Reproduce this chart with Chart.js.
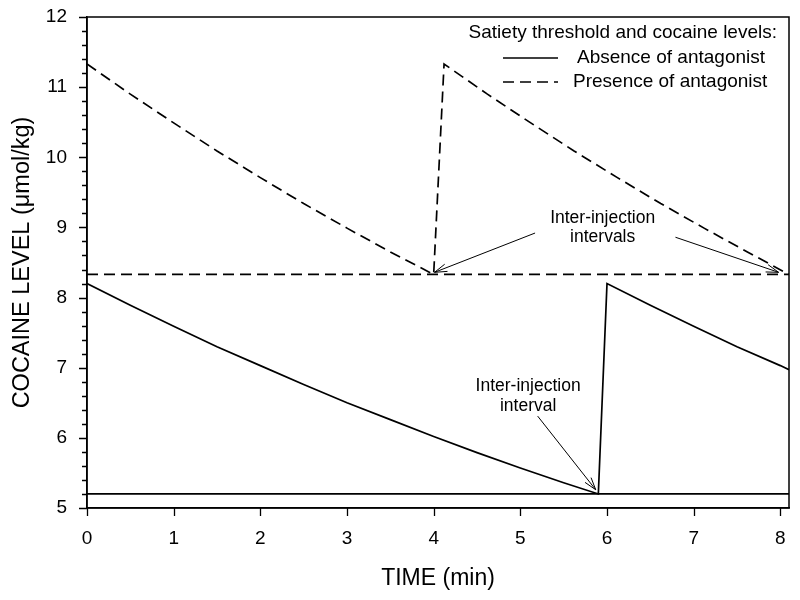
<!DOCTYPE html>
<html>
<head>
<meta charset="utf-8">
<script src="https://cdn.jsdelivr.net/npm/chart.js@4.4.1/dist/chart.umd.min.js"></script>
<style>
  html, body { margin: 0; padding: 0; background: #fff; }
  #wrap { width: 800px; height: 600px; }
</style>
</head>
<body>
<div id="wrap"><canvas id="chart" width="800" height="600"></canvas></div>
<script>
// values
const absTime  = [0, 0.5, 1, 1.5, 2, 2.5, 3, 3.5, 4, 4.5, 5, 5.5, 5.9, 6.0, 6.5, 7.0, 7.5, 8.0, 8.1];
const absLevel = [8.20, 7.89, 7.59, 7.30, 7.03, 6.76, 6.50, 6.26, 6.02, 5.79, 5.57, 5.36, 5.20, 8.20, 7.89, 7.59, 7.30, 7.03, 6.97];
const presTime  = [0, 0.5, 1, 1.5, 2, 2.5, 3, 3.5, 4.0, 4.12, 4.62, 5.12, 5.62, 6.12, 6.62, 7.12, 7.62, 8.1];
const presLevel = [11.33, 10.90, 10.49, 10.09, 9.71, 9.34, 8.99, 8.65, 8.33, 11.33, 10.90, 10.49, 10.09, 9.71, 9.34, 8.99, 8.65, 8.33];
const thresholdTime = [0, 8.1];
const absThreshold  = [5.2, 5.2];
const presThreshold = [8.33, 8.33];
const xTicks = [0, 1, 2, 3, 4, 5, 6, 7, 8];
const yTicks = [5, 6, 7, 8, 9, 10, 11, 12];

const legendTitle = 'Satiety threshold and cocaine levels:';
const legendLabels = ['Absence of antagonist', 'Presence of antagonist'];

// annotation text and arrows, in data units
const notes = [
  { lines: ['Inter-injection', 'intervals'], x: 5.95, y: [9.13, 8.86] },
  { lines: ['Inter-injection', 'interval'], x: 5.09, y: [6.73, 6.45] }
];
const arrows = [
  { from: [5.17, 8.92], to: [4.01, 8.36] },
  { from: [6.79, 8.86], to: [7.98, 8.36] },
  { from: [5.20, 6.31], to: [5.87, 5.26] }
];

const FONT = '"Liberation Sans", Arial, sans-serif';
const DASH = [11, 6];
const pts = (xs, ys) => xs.map((x, i) => ({ x: x, y: ys[i] }));

const line = (data, dash) => ({
  data: data, borderColor: '#000', borderWidth: 1.7, borderDash: dash,
  pointRadius: 0, showLine: true, fill: false, tension: 0
});

const extras = {
  id: 'extras',
  afterDraw(c) {
    const ctx = c.ctx, a = c.chartArea;
    const xs = c.scales.x, ys = c.scales.y;
    ctx.save();
    ctx.strokeStyle = '#000';
    ctx.lineWidth = 1.5;
    ctx.strokeRect(a.left, a.top, a.right - a.left, a.bottom - a.top);

    // ticks
    ctx.beginPath();
    xTicks.forEach(v => {
      const px = Math.round(xs.getPixelForValue(v)) + 0.5;
      ctx.moveTo(px, a.bottom); ctx.lineTo(px, a.bottom + 8);
    });
    for (let k = 0; k <= 35; k++) {
      const v = 5 + k * 0.2;
      const py = Math.round(ys.getPixelForValue(v)) + 0.5;
      const len = k % 5 === 0 ? 8 : 5;
      ctx.moveTo(a.left, py); ctx.lineTo(a.left - len, py);
    }
    ctx.lineWidth = 1.3;
    ctx.stroke();

    // legend
    ctx.fillStyle = '#000';
    ctx.font = '19px ' + FONT;
    ctx.textBaseline = 'middle';
    ctx.textAlign = 'right';
    ctx.fillText(legendTitle, a.right - 12, a.top + 16);
    ctx.textAlign = 'left';
    legendLabels.forEach((lab, i) => {
      const y = a.top + 41 + i * 24;
      ctx.beginPath();
      ctx.setLineDash(i === 0 ? [] : DASH);
      ctx.lineWidth = 1.7;
      ctx.moveTo(a.left + 416, y); ctx.lineTo(a.left + 471, y);
      ctx.stroke();
      ctx.setLineDash([]);
      ctx.fillText(lab, a.left + (i === 0 ? 490 : 486), y);
    });

    // annotations
    ctx.font = '17.5px ' + FONT;
    ctx.textAlign = 'center';
    notes.forEach(n => {
      n.lines.forEach((t, i) => ctx.fillText(t, xs.getPixelForValue(n.x), ys.getPixelForValue(n.y[i])));
    });
    ctx.lineWidth = 1;
    arrows.forEach(ar => {
      const x1 = xs.getPixelForValue(ar.from[0]), y1 = ys.getPixelForValue(ar.from[1]);
      const x2 = xs.getPixelForValue(ar.to[0]), y2 = ys.getPixelForValue(ar.to[1]);
      const ang = Math.atan2(y2 - y1, x2 - x1);
      ctx.beginPath();
      ctx.moveTo(x1, y1); ctx.lineTo(x2, y2);
      [-0.3, 0.3].forEach(d => {
        ctx.moveTo(x2, y2);
        ctx.lineTo(x2 - 13 * Math.cos(ang + d), y2 - 13 * Math.sin(ang + d));
      });
      ctx.stroke();
    });
    ctx.restore();
  }
};

new Chart(document.getElementById('chart'), {
  type: 'scatter',
  data: {
    datasets: [
      line(pts(thresholdTime, absThreshold), []),
      line(pts(absTime, absLevel), []),
      line(pts(thresholdTime, presThreshold), DASH),
      line(pts(presTime, presLevel), DASH)
    ]
  },
  options: {
    responsive: false,
    animation: false,
    layout: { padding: { left: 0, top: 17, right: 11, bottom: 0 } },
    plugins: { legend: { display: false }, tooltip: { enabled: false } },
    scales: {
      x: {
        type: 'linear', min: 0, max: 8.1,
        afterFit: s => { s.height = 92; s.paddingLeft = 0; s.paddingRight = 0; },
        grid: { display: false },
        border: { display: true, color: '#000', width: 1.5 },
        ticks: { stepSize: 1, includeBounds: false, padding: 11, color: '#000', font: { family: FONT, size: 19 } },
        title: { display: true, text: 'TIME (min)', color: '#000', padding: { top: 0, bottom: 8 }, font: { family: FONT, size: 23 } }
      },
      y: {
        type: 'linear', min: 5, max: 12,
        afterFit: s => { s.width = 87; s.paddingTop = 0; s.paddingBottom = 0; },
        grid: { display: false },
        border: { display: true, color: '#000', width: 1.5 },
        ticks: { stepSize: 1, padding: 12, color: '#000', font: { family: FONT, size: 19 } },
        title: { display: true, text: 'COCAINE LEVEL (\u03bcmol/kg)', color: '#000', padding: { top: 8, bottom: 0 }, font: { family: FONT, size: 23.5 } }
      }
    }
  },
  plugins: [extras]
});
</script>
</body>
</html>
